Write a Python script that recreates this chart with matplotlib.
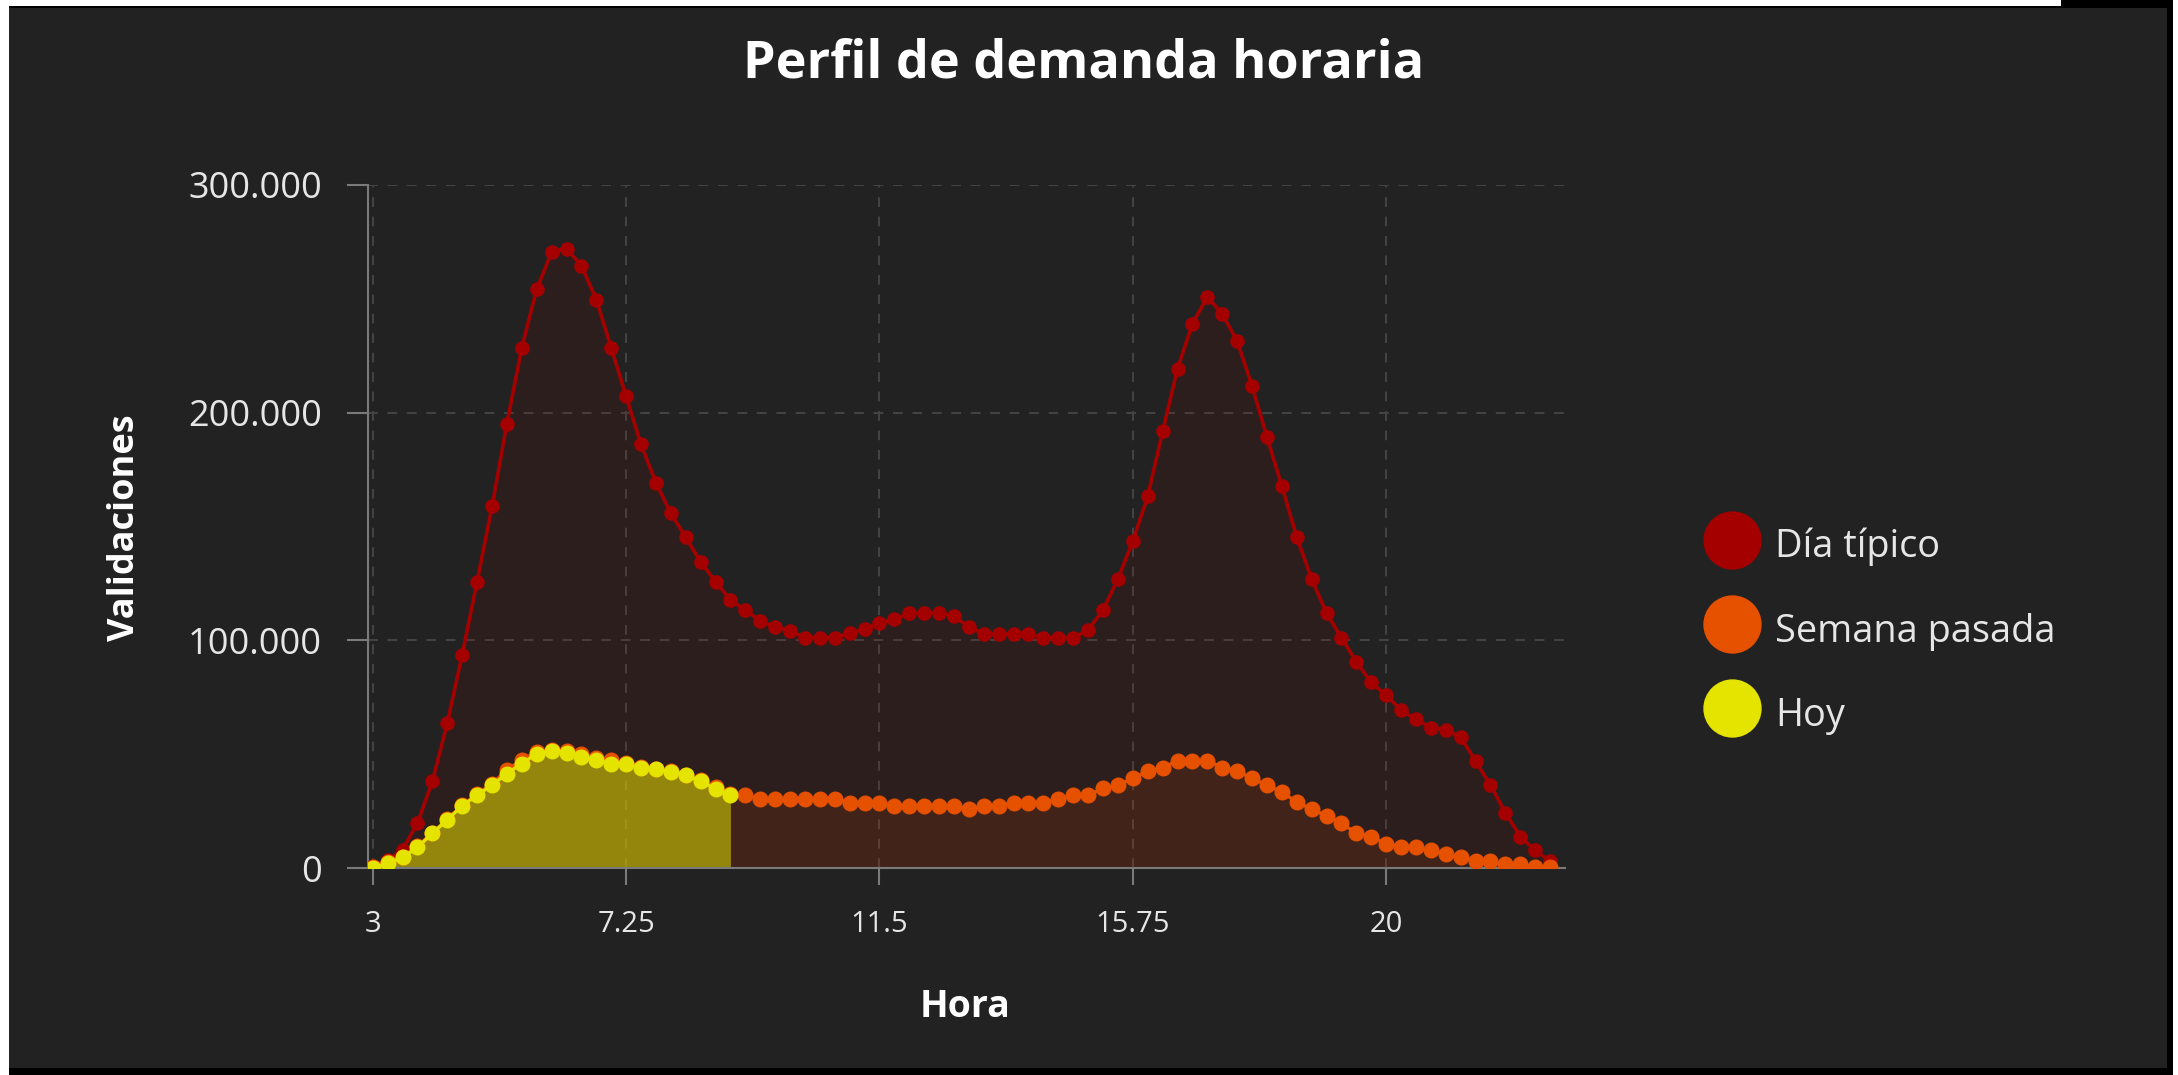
import matplotlib.pyplot as plt
import matplotlib.patches as mpatches
from matplotlib.lines import Line2D
from matplotlib.ticker import FuncFormatter
import numpy as np

plt.rcParams['font.family'] = ['Open Sans', 'DejaVu Sans']

# hours in 15 minute steps, 3:00 .. 22:45
hours = np.arange(3, 23, 0.25)

dia_tipico = [1000, 3500, 8000, 19800, 38000, 63700, 93700, 125800, 158800, 195200,
              228600, 254300, 270500, 272100, 264600, 249600, 228600, 207200, 186100, 169300,
              155800, 145300, 134500, 125800, 117700, 113300, 108600, 105800, 104200, 101200,
              101200, 101200, 103200, 104800, 107600, 109200, 111900, 111900, 111900, 110700,
              105800, 102800, 102800, 102800, 102800, 101200, 101200, 101200, 104600, 113300,
              127000, 143600, 163300, 191800, 219300, 239100, 250900, 243400, 231400, 211800,
              189200, 167900, 145300, 127000, 111900, 101200, 90600, 81500, 75900, 69400,
              65300, 61700, 60700, 57500, 46900, 36400, 24300, 13800, 7700, 3000]

semana_pasada = [500, 2500, 5000, 9500, 15500, 21500, 27500, 32500, 37000, 43000,
                 47500, 51000, 52000, 51500, 50000, 48500, 47500, 46000, 44500, 43500,
                 42500, 41000, 38500, 35500, 32500, 32000, 30300, 30300, 30300, 30300,
                 30300, 30300, 28700, 28700, 28700, 27300, 27300, 27300, 27300, 27300,
                 25700, 27300, 27300, 28700, 28700, 28700, 30300, 32000, 32000, 35000,
                 36400, 39400, 42500, 44100, 47100, 47100, 47100, 44100, 42500, 39400,
                 36400, 33400, 28900, 25900, 22900, 19800, 15200, 13800, 10700, 9100,
                 9100, 7700, 6100, 4700, 3000, 3000, 1600, 1600, 300, 300]

hoy = [0, 2000, 4700, 9100, 15200, 21200, 27300, 32000, 36400, 41500,
       45900, 50200, 51600, 50600, 48600, 47300, 45900, 45500, 44100, 43500,
       42100, 40900, 38000, 34800, 32000]

series_labels = ["Día típico", "Semana pasada", "Hoy"]
series_colors = ["#a50000", "#e65100", "#e5e400"]
xtick_vals = [3, 7.25, 11.5, 15.75, 20]
ytick_vals = [0, 100000, 200000, 300000]

BG = "#222222"
W, H = 2178, 1075
fig = plt.figure(figsize=(W / 100, H / 100), dpi=100, facecolor=BG)

# screenshot frame
def px_rect(x0, y0, x1, y1, color):
    fig.patches.append(mpatches.Rectangle((x0 / W, 1 - y1 / H), (x1 - x0) / W, (y1 - y0) / H,
                                          transform=fig.transFigure, facecolor=color,
                                          edgecolor='none', zorder=0))

px_rect(0, 0, 9, H, "white")
px_rect(0, 0, 2061, 6, "white")
px_rect(2061, 0, W, 8, "black")
px_rect(9, 6, W, 8, "black")
px_rect(2167, 0, 2173, H, "black")
px_rect(2173, 0, W, H, "white")
px_rect(9, 1068, 2173, H, "black")

ax = fig.add_axes([368 / W, 1 - 868 / H, (1565 - 368) / W, (868 - 185) / H])
ax.set_facecolor(BG)

hours_hoy = hours[:len(hoy)]

ax.fill_between(hours, dia_tipico, color=series_colors[0], alpha=0.09, lw=0, zorder=1)
ax.fill_between(hours, semana_pasada, color=series_colors[1], alpha=0.11, lw=0, zorder=1.1)
ax.fill_between(hours_hoy, hoy, color=series_colors[2], alpha=0.51, lw=0, zorder=1.2)

ax.plot(hours, dia_tipico, color=series_colors[0], lw=2.6, marker='o', ms=9.5, zorder=3)
ax.plot(hours, semana_pasada, color=series_colors[1], lw=2.4, marker='o', ms=10.5, zorder=4)
ax.plot(hours_hoy, hoy, color=series_colors[2], lw=2.4, marker='o', ms=10.5, zorder=5)

ax.set_xlim(2.92, 23.0)
ax.set_ylim(0, 300000)
ax.set_xticks(xtick_vals)
ax.set_xticklabels([('%g' % v) for v in xtick_vals])
ax.set_yticks(ytick_vals)
ax.yaxis.set_major_formatter(FuncFormatter(lambda v, p: '{:,.0f}'.format(v).replace(',', '.')))

ax.grid(True, color='#444444', lw=1.4, ls=(0, (5, 5)))
ax.set_axisbelow(True)
for s in ['top', 'right']:
    ax.spines[s].set_visible(False)
for s in ['left', 'bottom']:
    ax.spines[s].set_color('#7a7a7a')
    ax.spines[s].set_linewidth(1.5)
ax.tick_params(axis='y', colors='#7a7a7a', length=15, width=1.5, pad=18,
               labelcolor='#e6e6e6', labelsize=26)
ax.tick_params(axis='x', colors='#7a7a7a', length=12, width=1.5, pad=18,
               labelcolor='#e6e6e6', labelsize=21)

fig.text(1084 / W, 1 - 64 / H, "Perfil de demanda horaria", color='white',
         fontsize=37.5, fontweight='bold', ha='center', va='center')
fig.text(125 / W, 1 - 528 / H, "Validaciones", color='white', fontsize=26,
         fontweight='bold', rotation=90, ha='center', va='center')
fig.text(965 / W, 1 - 1007 / H, "Hora", color='white', fontsize=27,
         fontweight='bold', ha='center', va='center')

handles = [Line2D([], [], ls='none', marker='o', ms=41, color=c) for c in series_colors]
leg = ax.legend(handles, series_labels, loc='center left',
                bbox_to_anchor=(1704 / W, 1 - 629 / H), bbox_transform=fig.transFigure,
                frameon=False, fontsize=27.3, handlelength=1.5, handleheight=1.5,
                handletextpad=0.38, labelspacing=1.0, borderpad=0, borderaxespad=0)
for t in leg.get_texts():
    t.set_color('#e6e6e6')

fig.savefig('out.png', dpi=100, facecolor=BG)
